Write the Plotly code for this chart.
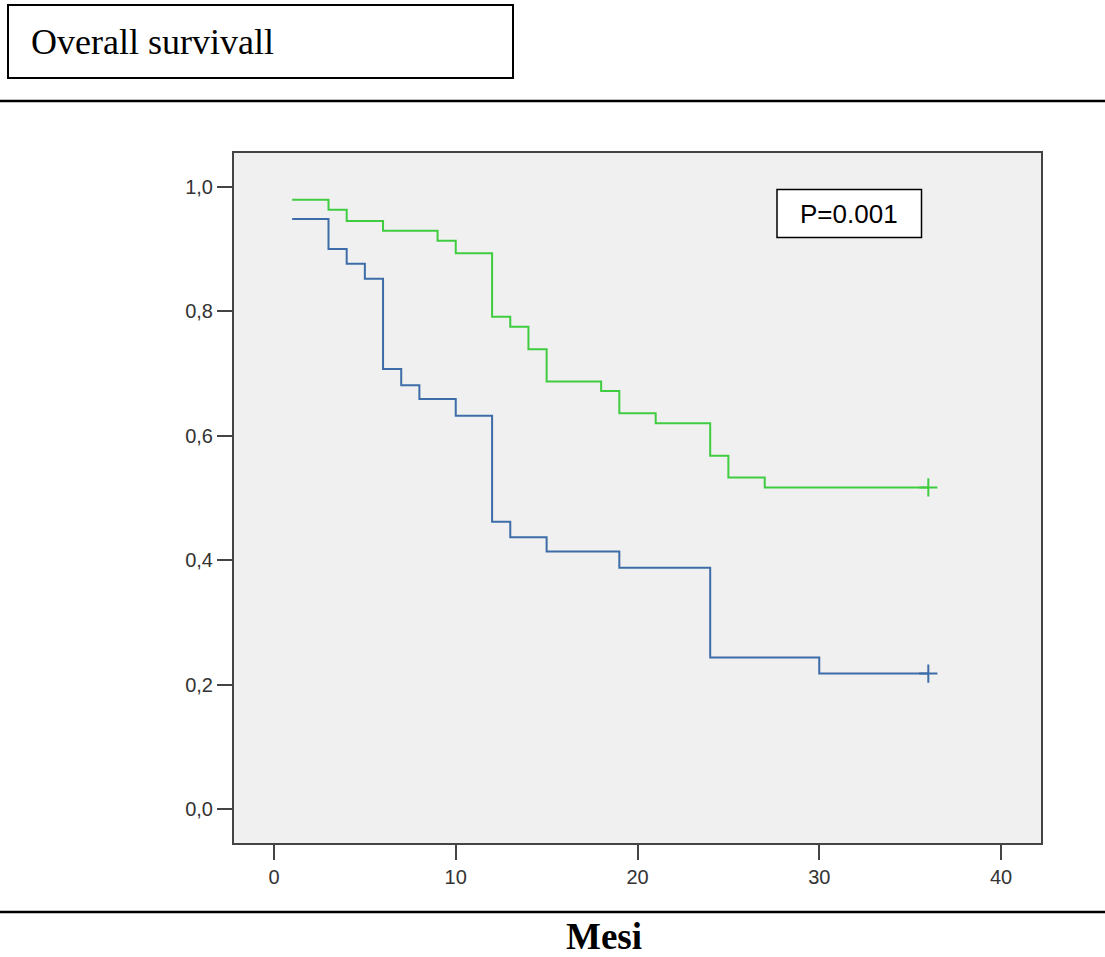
import plotly.graph_objects as go

# Kaplan-Meier step data (months, survival)
green_t = [1, 3, 4, 6, 9, 10, 12, 13, 14, 15, 18, 19, 21, 24, 25, 27, 36]
green_s = [0.979, 0.963, 0.945, 0.929, 0.913, 0.893, 0.791, 0.775, 0.739, 0.687,
           0.672, 0.636, 0.620, 0.568, 0.533, 0.517, 0.517]
blue_t = [1, 3, 4, 5, 6, 7, 8, 10, 12, 13, 15, 19, 24, 30, 36]
blue_s = [0.948, 0.900, 0.876, 0.852, 0.707, 0.681, 0.659, 0.632, 0.462, 0.437,
          0.414, 0.388, 0.244, 0.218, 0.218]
x_ticks = [0, 10, 20, 30, 40]
y_ticks = [0.0, 0.2, 0.4, 0.6, 0.8, 1.0]

W, H = 1105, 957
GREEN = "#40CC40"
BLUE = "#3C6DA8"

def px(x):
    return x / W

def py(y):
    return 1 - y / H

fig = go.Figure()
for t, s, c in [(green_t, green_s, GREEN), (blue_t, blue_s, BLUE)]:
    fig.add_trace(go.Scatter(x=t, y=s, mode="lines", line=dict(color=c, width=2, shape="hv"),
                             showlegend=False, hoverinfo="skip"))
    fig.add_trace(go.Scatter(x=[t[-1]], y=[s[-1]], mode="markers",
                             marker=dict(symbol="cross-thin", size=13, line=dict(color=c, width=2)),
                             showlegend=False, hoverinfo="skip"))

axis_common = dict(showline=True, mirror=True, linecolor="#444444", linewidth=2,
                   ticks="outside", ticklen=15, tickwidth=2, tickcolor="#444444",
                   showgrid=False, zeroline=False,
                   tickfont=dict(family="Liberation Sans, Arial", size=20, color="#333333"))

fig.update_layout(
    width=W, height=H, autosize=False,
    margin=dict(l=0, r=0, t=0, b=0),
    paper_bgcolor="white", plot_bgcolor="#F0F0F0",
    separators=",.",
    xaxis=dict(domain=[234 / W, 1041 / W], range=[-2.2, 42.2], tickvals=x_ticks,
               **axis_common),
    yaxis=dict(domain=[py(843), py(153)], range=[-0.054, 1.054], tickvals=y_ticks,
               tickformat=".1f", **axis_common),
    shapes=[
        dict(type="rect", xref="paper", yref="paper", x0=px(8), x1=px(513), y0=py(78), y1=py(5),
             line=dict(color="black", width=2), fillcolor="rgba(0,0,0,0)"),
        dict(type="line", xref="paper", yref="paper", x0=0, x1=1, y0=py(101), y1=py(101),
             line=dict(color="black", width=2.5)),
        dict(type="line", xref="paper", yref="paper", x0=0, x1=1, y0=py(912), y1=py(912),
             line=dict(color="black", width=2.5)),
        dict(type="rect", xref="paper", yref="paper", x0=px(777), x1=px(921.5), y0=py(237.5), y1=py(189.5),
             line=dict(color="black", width=1.5), fillcolor="white"),
    ],
    annotations=[
        dict(text="Overall survivall", xref="paper", yref="paper", x=px(29), y=py(42),
             xanchor="left", yanchor="middle", showarrow=False,
             font=dict(family="Liberation Serif, Times New Roman", size=36, color="black")),
        dict(text="<b>Mesi</b>", xref="paper", yref="paper", x=px(604), y=py(936),
             xanchor="center", yanchor="middle", showarrow=False,
             font=dict(family="Liberation Serif, Times New Roman", size=37, color="black")),
        dict(text="P=0.001", xref="paper", yref="paper", x=px(849), y=py(214),
             xanchor="center", yanchor="middle", showarrow=False,
             font=dict(family="Liberation Sans, Arial", size=26, color="black")),
    ],
)

fig.write_html("out.html",
               config={"displayModeBar": False},
               post_script="document.body.style.margin='0';document.body.style.padding='0';"
                           "document.body.style.overflow='hidden';")
